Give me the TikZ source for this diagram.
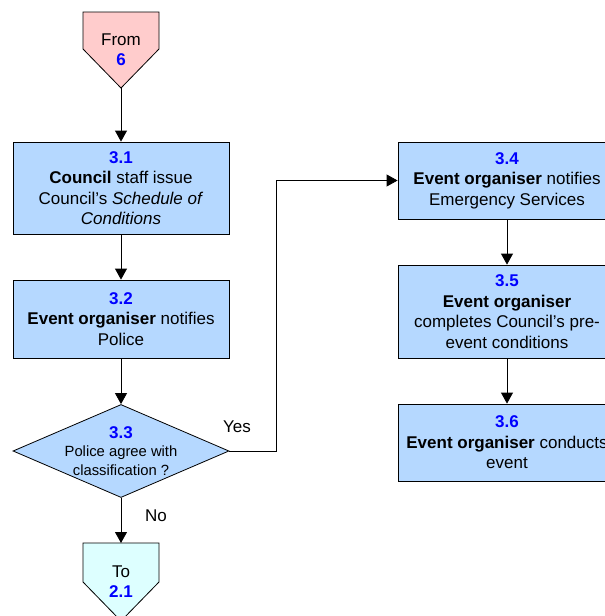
\documentclass[tikz,border=0pt]{standalone}
\usepackage{fontspec}
\setmainfont{Liberation Sans}
\usetikzlibrary{arrows.meta,shapes.geometric}
\definecolor{boxblue}{RGB}{181,216,255}
\definecolor{frompink}{RGB}{255,204,204}
\definecolor{tocyan}{RGB}{221,255,255}
\definecolor{numblue}{RGB}{0,0,255}
\newcommand{\stepnum}[1]{\textcolor{numblue}{\textbf{#1}}}
\tikzset{
  stepbox/.style={draw=black, line width=0.8pt, fill=boxblue, rectangle, inner sep=0pt,
    align=center, font=\fontsize{17}{20.5}\selectfont},
  txt/.style={align=center, inner sep=0pt, font=\fontsize{17}{20}\selectfont},
  conn/.style={draw=black, line width=0.8pt, -{Triangle[length=11pt,width=12pt]}},
  plainline/.style={draw=black, line width=0.8pt},
}
\begin{document}
\begin{tikzpicture}[x=1pt,y=-1pt]
\useasboundingbox (0,0) rectangle (605,616);
\clip (0,0) rectangle (605,616);
% From connector shape
\draw[plainline, fill=frompink] (83,12) -- (159,12) -- (159,49) -- (121,88) -- (83,49) -- cycle;
\node[txt] (fromtxt) at (121,50) {From\\\stepnum{6}};
\coordinate (fromtip) at (121,88);
% To connector shape
\draw[plainline, fill=tocyan] (83,543) -- (159,543) -- (159,582) -- (121,621) -- (83,582) -- cycle;
\node[txt] (totxt) at (121,582) {To\\\stepnum{2.1}};
\coordinate (totop) at (121,543);
% left column
\node[stepbox, minimum width=216pt, minimum height=92pt] (b1) at (121,188)
  {\stepnum{3.1}\\\textbf{Council} staff issue\\Council's \textit{Schedule of}\\\textit{Conditions}};
\node[stepbox, minimum width=216pt, minimum height=78pt] (b2) at (121,319)
  {\stepnum{3.2}\\\textbf{Event organiser} notifies\\Police};
\node[draw=black, line width=0.8pt, fill=boxblue, diamond, inner sep=0pt,
  minimum width=216pt, minimum height=93pt] (d) at (121,451) {};
\node[align=center, inner sep=0pt, font=\fontsize{14.8}{18.5}\selectfont] (dtxt) at (121,451)
  {{\fontsize{17}{18.5}\selectfont\stepnum{3.3}}\\Police agree with\\classification ?};
% right column
\node[stepbox, minimum width=218pt, minimum height=77pt] (b4) at (507,180.5)
  {\stepnum{3.4}\\\textbf{Event organiser} notifies\\Emergency Services};
\node[stepbox, minimum width=218pt, minimum height=93pt] (b5) at (507,311.5)
  {\stepnum{3.5}\\\textbf{Event organiser}\\completes Council's pre-\\event conditions};
\node[stepbox, minimum width=218pt, minimum height=77pt] (b6) at (507,442.5)
  {\stepnum{3.6}\\\textbf{Event organiser} conducts\\event};
% connectors
\draw[conn] (fromtip) -- (b1.north);
\draw[conn] (b1.south) -- (b2.north);
\draw[conn] (b2.south) -- (d.north);
\draw[conn] (d.south) -- (totop);
\coordinate (yescorner) at (276,451);
\draw[conn] (d.east) -- (yescorner) |- (b4.west);
\draw[conn] (b4.south) -- (b5.north);
\draw[conn] (b5.south) -- (b6.north);
% labels
\node[txt] (yes) at (237,427) {Yes};
\node[txt] (no) at (156,516) {No};
\end{tikzpicture}
\end{document}
